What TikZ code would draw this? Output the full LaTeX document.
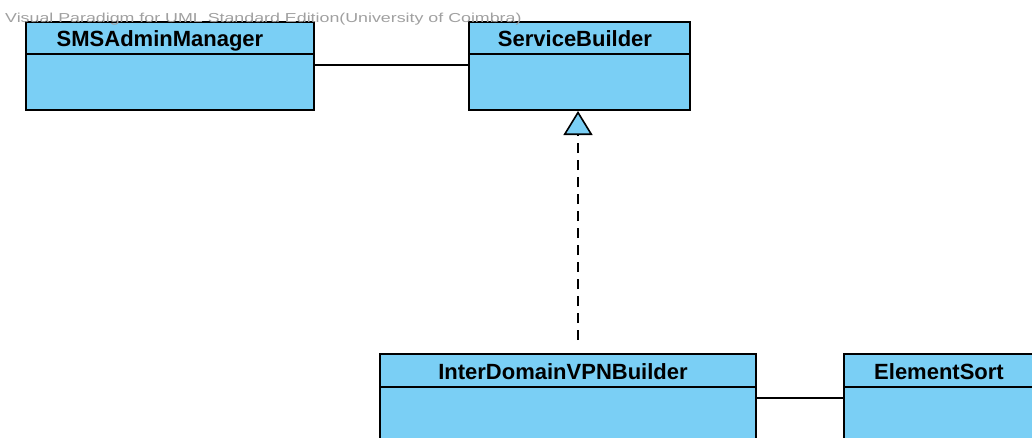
\documentclass[tikz,border=0pt]{standalone}
\usepackage{fontspec}
\setmainfont{Liberation Sans}
\usetikzlibrary{arrows.meta}
\definecolor{classfill}{RGB}{122,207,245}
\definecolor{markgray}{RGB}{160,160,160}
\tikzset{
  classbox/.style={draw=black, line width=2pt, fill=classfill, rectangle,
    anchor=north west, inner sep=0pt},
  classname/.style={font=\fontsize{22}{22}\selectfont\bfseries, inner sep=0pt, anchor=base},
  divider/.style={draw=black, line width=2pt},
  assoc/.style={draw=black, line width=1.6pt},
  realize/.style={draw=black, line width=1.6pt, dash pattern=on 10pt off 7pt,
    -{Triangle[open, fill=classfill, length=24pt, width=29pt, line width=1.6pt]}},
}
\begin{document}
\begin{tikzpicture}[x=1pt, y=-1pt]
\useasboundingbox (0,0) rectangle (1032,437);
\clip (0,0) rectangle (1032,437);

% class boxes
\node[classbox, minimum width=288pt, minimum height=88pt] (sms) at (25,21) {};
\node[classbox, minimum width=221pt, minimum height=88pt] (sb) at (468,21) {};
\node[classbox, minimum width=376pt, minimum height=120pt] (ivpn) at (379,353) {};
\node[classbox, minimum width=230pt, minimum height=120pt] (es) at (843,353) {};

% header separators
\draw[divider] (sms.west |- 0,54) -- (sms.east |- 0,54);
\draw[divider] (sb.west |- 0,54) -- (sb.east |- 0,54);
\draw[divider] (ivpn.west |- 0,387) -- (ivpn.east |- 0,387);
\draw[divider] (es.west |- 0,387) -- (es.east |- 0,387);

% class names
\node[classname] (smsname) at (160,46) {SMSAdminManager};
\node[classname] (sbname) at (575,46) {ServiceBuilder};
\node[classname] (ivpnname) at (563,379) {InterDomainVPNBuilder};
\node[classname] (esname) at (939,379) {ElementSort};

% associations
\draw[assoc] (sms.east |- 0,65) -- (sb.west |- 0,65);
\draw[assoc] (ivpn.east |- 0,398) -- (es.west |- 0,398);

% realization
\coordinate (ivpntop) at (ivpn.north -| 578,0);
\coordinate (sbbottom) at (sb.south -| 578,0);
\draw[realize, shorten <=13pt] (ivpntop) -- (sbbottom);

% edition mark
\node[anchor=base west, inner sep=0pt, text=markgray,
  font=\fontsize{13}{13}\selectfont] (mark) at (5,22)
  {\scalebox{1.37}[1]{Visual Paradigm for UML Standard Edition(University of Coimbra)}};
\end{tikzpicture}
\end{document}
